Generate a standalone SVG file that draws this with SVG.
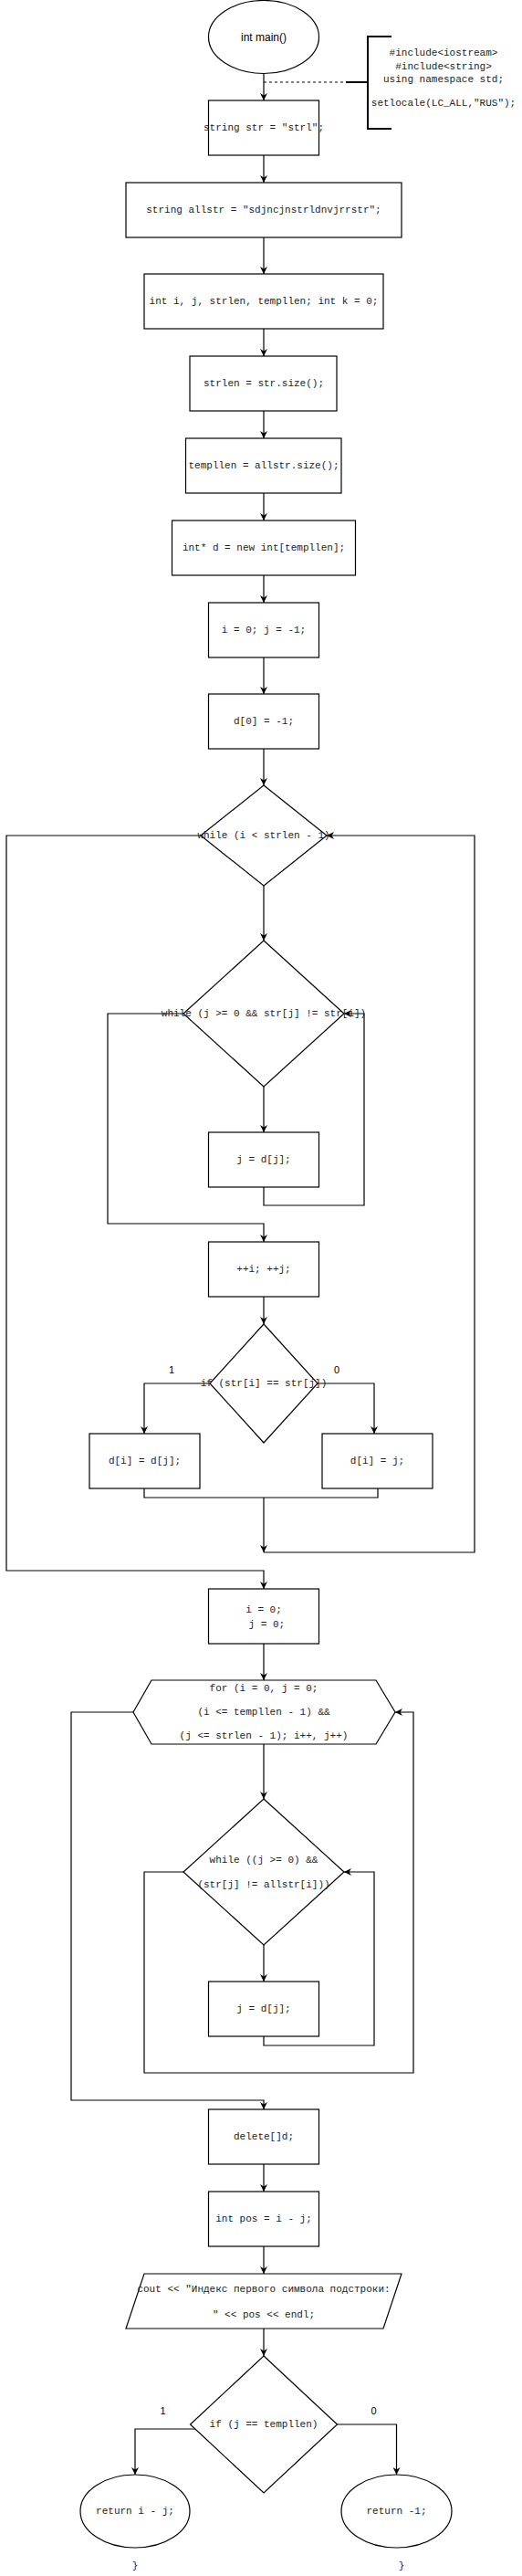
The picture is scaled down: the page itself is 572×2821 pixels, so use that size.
<svg xmlns="http://www.w3.org/2000/svg" width="572" height="2821" viewBox="0 0 572 2821">
<style>
.shape{fill:#fff;stroke:#000;stroke-width:1.2}
.code{font-family:"Liberation Mono","DejaVu Sans Mono",monospace;font-size:11px;fill:#222;text-anchor:middle;dominant-baseline:central}
.sans{font-family:"Liberation Sans",Arial,sans-serif;font-size:12px;fill:#000;text-anchor:middle;dominant-baseline:central}
.ln{fill:none;stroke:#000;stroke-width:1.2}
.arr{marker-end:url(#ah)}
.br{fill:none;stroke:#000;stroke-width:2}
</style>
<defs>
<marker id="ah" viewBox="0 0 10 10" refX="10" refY="5" markerWidth="8" markerHeight="8" orient="auto" markerUnits="userSpaceOnUse"><path d="M0,0 L10,5 L0,10 L3,5 z" fill="#000"/></marker>
</defs>
<rect width="572" height="2821" fill="#fff"/>
<g id="connectors">
<path class="ln arr" d="M289,81 V110"/>
<path class="ln" d="M289,90 H379" stroke-dasharray="3,3"/>
<path class="ln arr" d="M289,170 V200"/>
<path class="ln arr" d="M289,260 V300"/>
<path class="ln arr" d="M289,360 V390"/>
<path class="ln arr" d="M289,450 V480"/>
<path class="ln arr" d="M289,540 V570"/>
<path class="ln arr" d="M289,630 V660"/>
<path class="ln arr" d="M289,720 V760"/>
<path class="ln arr" d="M289,820 V860"/>
<path class="ln arr" d="M289,970 V1030"/>
<path class="ln arr" d="M289,1190 V1240"/>
<path class="ln arr" d="M289,1300 V1320 H399 V1110 H377"/>
<path class="ln arr" d="M201,1110 H118 V1340 H289 V1360"/>
<path class="ln arr" d="M289,1420 V1450"/>
<path class="ln arr" d="M230,1515 H158 V1570"/>
<path class="ln arr" d="M348,1515 H410 V1570"/>
<path class="ln" d="M158,1630 V1640 H414 V1630"/>
<path class="ln arr" d="M289,1640 V1700"/>
<path class="ln arr" d="M289,1700 H520 V915 H358"/>
<path class="ln arr" d="M220,915 H7 V1720 H289 V1740"/>
<path class="ln arr" d="M289,1800 V1840"/>
<path class="ln arr" d="M289,1910 V1970"/>
<path class="ln arr" d="M289,2130 V2170"/>
<path class="ln arr" d="M289,2230 V2240 H410 V2050 H377"/>
<path class="ln arr" d="M201,2050 H158 V2270 H453 V1875 H433"/>
<path class="ln arr" d="M146,1875 H78 V2300 H289 V2310"/>
<path class="ln arr" d="M289,2370 V2400"/>
<path class="ln arr" d="M289,2460 V2490"/>
<path class="ln arr" d="M289,2550 V2580"/>
<path class="ln arr" d="M214,2660 H148 V2710"/>
<path class="ln arr" d="M369.5,2655 H434.5 V2710"/>
</g>
<g id="start"><ellipse class="shape" cx="289" cy="40.5" rx="60.5" ry="40"/><text class="sans" x="289" y="41">int main()</text></g>
<g id="note">
<path class="br" d="M429,40 H403 V141 H429 M379,90 H403"/>
<text class="code" x="486" y="58">#include&lt;iostream&gt;</text>
<text class="code" x="486" y="72.5">#include&lt;string&gt;</text>
<text class="code" x="486" y="87">using namespace std;</text>
<text class="code" x="486" y="113">setlocale(LC_ALL,"RUS");</text>
</g>
<g id="n1"><rect class="shape" x="228.5" y="110" width="121" height="60"/><text class="code" x="289" y="140">string str = "strl";</text></g>
<g id="n2"><rect class="shape" x="138" y="200" width="302" height="60"/><text class="code" x="289" y="230">string allstr = "sdjncjnstrldnvjrrstr";</text></g>
<g id="n3"><rect class="shape" x="158" y="300" width="262" height="60"/><text class="code" x="289" y="330">int i, j, strlen, templlen; int k = 0;</text></g>
<g id="n4"><rect class="shape" x="208" y="390" width="161" height="60"/><text class="code" x="289" y="420">strlen = str.size();</text></g>
<g id="n5"><rect class="shape" x="203.5" y="480" width="170.5" height="60"/><text class="code" x="289" y="510">templlen = allstr.size();</text></g>
<g id="n6"><rect class="shape" x="188.5" y="570" width="201" height="60"/><text class="code" x="289" y="600">int* d = new int[templlen];</text></g>
<g id="n7"><rect class="shape" x="228.5" y="660" width="121" height="60"/><text class="code" x="289" y="690">i = 0; j = -1;</text></g>
<g id="n8"><rect class="shape" x="228.5" y="760" width="121" height="60"/><text class="code" x="289" y="790">d[0] = -1;</text></g>
<g id="d1"><polygon class="shape" points="289,860 358,915 289,970 220,915"/><text class="code" x="289" y="915">while (i &lt; strlen - 1)</text></g>
<g id="d2"><polygon class="shape" points="289,1030 377,1110 289,1190 201,1110"/><text class="code" x="289" y="1110">while (j &gt;= 0 &amp;&amp; str[j] != str[i])</text></g>
<g id="n9"><rect class="shape" x="228.5" y="1240" width="121" height="60"/><text class="code" x="289" y="1270">j = d[j];</text></g>
<g id="n10"><rect class="shape" x="228.5" y="1360" width="121" height="60"/><text class="code" x="289" y="1390">++i; ++j;</text></g>
<g id="d3"><polygon class="shape" points="289,1450 348,1515 289,1580 230,1515"/><text class="code" x="289" y="1515">if (str[i] == str[j])</text></g>
<g id="l1"><text class="sans" x="188" y="1500" style="font-size:11px">1</text></g>
<g id="l0"><text class="sans" x="369" y="1500" style="font-size:11px">0</text></g>
<g id="n11"><rect class="shape" x="98" y="1570" width="121" height="60"/><text class="code" x="158.5" y="1600">d[i] = d[j];</text></g>
<g id="n12"><rect class="shape" x="353" y="1570" width="121" height="60"/><text class="code" x="413.5" y="1600">d[i] = j;</text></g>
<g id="n13"><rect class="shape" x="228.5" y="1740" width="121" height="60"/><text class="code" x="289" y="1763">i = 0;</text><text class="code" x="289" y="1779" xml:space="preserve"> j = 0;</text></g>
<g id="for"><polygon class="shape" points="166,1840 412,1840 433,1875 412,1910 166,1910 146,1875"/>
<text class="code" x="289" y="1849">for (i = 0, j = 0;</text>
<text class="code" x="289" y="1875">(i &lt;= templlen - 1) &amp;&amp;</text>
<text class="code" x="289" y="1901">(j &lt;= strlen - 1); i++, j++)</text></g>
<g id="d4"><polygon class="shape" points="289,1970 377,2050 289,2130 201,2050"/>
<text class="code" x="289" y="2037">while ((j &gt;= 0) &amp;&amp;</text>
<text class="code" x="289" y="2064">(str[j] != allstr[i]))</text></g>
<g id="n14"><rect class="shape" x="228.5" y="2170" width="121" height="60"/><text class="code" x="289" y="2200">j = d[j];</text></g>
<g id="n15"><rect class="shape" x="228.5" y="2310" width="121" height="60"/><text class="code" x="289" y="2340">delete[]d;</text></g>
<g id="n16"><rect class="shape" x="228.5" y="2400" width="121" height="60"/><text class="code" x="289" y="2430">int pos = i - j;</text></g>
<g id="out"><polygon class="shape" points="158,2490 440,2490 420,2550 138,2550"/>
<text class="code" x="289" y="2507">cout &lt;&lt; "Индекс первого символа подстроки:</text>
<text class="code" x="289" y="2535">" &lt;&lt; pos &lt;&lt; endl;</text></g>
<g id="d5"><polygon class="shape" points="289,2580 369.5,2655 289,2730 208.5,2655"/><text class="code" x="289" y="2655">if (j == templlen)</text></g>
<g id="l1b"><text class="sans" x="178.5" y="2640" style="font-size:11px">1</text></g>
<g id="l0b"><text class="sans" x="409.5" y="2640" style="font-size:11px">0</text></g>
<g id="e1"><ellipse class="shape" cx="148" cy="2750" rx="60" ry="40"/><text class="code" x="148" y="2750">return i - j;</text></g>
<g id="e2"><ellipse class="shape" cx="434.5" cy="2750" rx="60.5" ry="40"/><text class="code" x="434.5" y="2750">return -1;</text></g>
<g id="b1"><text class="code" x="148" y="2810">}</text></g>
<g id="b2"><text class="code" x="440" y="2810">}</text></g>
</svg>
